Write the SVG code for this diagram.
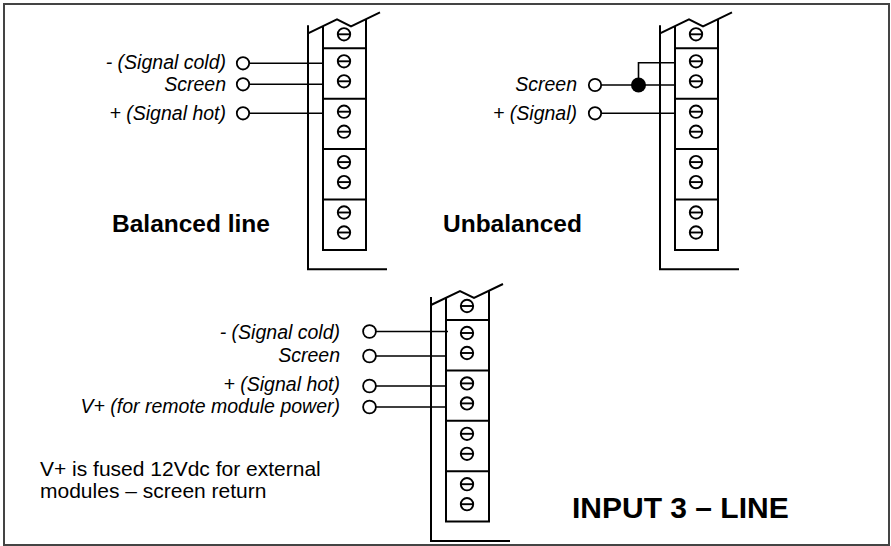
<svg xmlns="http://www.w3.org/2000/svg" width="891" height="546" viewBox="0 0 891 546">
<style>
.ln{fill:none;stroke:#000;stroke-width:2}
.w{fill:none;stroke:#000;stroke-width:1.6}
.term{fill:#fff;stroke:#000;stroke-width:1.8}
.lbl{font-family:"Liberation Sans",Arial,sans-serif;font-style:italic;font-size:19.5px;fill:#000;text-anchor:end}
.note{font-family:"Liberation Sans",Arial,sans-serif;font-size:21px;fill:#000}
.ttl{font-family:"Liberation Sans",Arial,sans-serif;font-weight:bold;font-size:24.5px;fill:#000}
</style>
<defs>
<g id="screw">
<circle cx="0" cy="0" r="6.2" fill="none" stroke="#000" stroke-width="1.9"/>
<line x1="-6.2" y1="0" x2="6.2" y2="0" stroke="#000" stroke-width="1.9"/>
</g>
<g id="block">
<path class="ln" d="M0 -23 V221 H79"/>
<path class="ln" d="M0 -15 L29 -29 L43 -22 L72 -36"/>
<path class="ln" d="M15 -22.2 V201.6 H58 V-29.2"/>
<path class="ln" d="M15 0 H58 M15 50.4 H58 M15 100.8 H58 M15 151.2 H58"/>
<use href="#screw" x="36" y="-14"/>
<use href="#screw" x="36" y="13"/>
<use href="#screw" x="36" y="33"/>
<use href="#screw" x="36" y="63.4"/>
<use href="#screw" x="36" y="83.4"/>
<use href="#screw" x="36" y="113.8"/>
<use href="#screw" x="36" y="133.8"/>
<use href="#screw" x="36" y="164.2"/>
<use href="#screw" x="36" y="184.2"/>
</g>
</defs>
<rect x="0" y="0" width="891" height="546" fill="#fff"/>
<rect x="4" y="4" width="885" height="541" fill="none" stroke="#444" stroke-width="2"/>

<g id="balanced-block">
<use href="#block" transform="translate(308,48.3)"/>
<text class="ttl" x="112" y="232">Balanced line</text>
</g>
<g id="unbalanced-block">
<use href="#block" transform="translate(660,48.3)"/>
<text class="ttl" x="443" y="232">Unbalanced</text>
</g>
<g id="input3-block">
<use href="#block" transform="translate(431,320)"/>
<text class="ttl" x="572" y="518" style="font-size:30px">INPUT 3 – LINE</text>
<text class="note" x="40" y="476">V+ is fused 12Vdc for external</text>
<text class="note" x="40" y="498">modules – screen return</text>
</g>

<g id="balanced-terminals">
<circle class="term" cx="243" cy="63.3" r="6.2"/>
<circle class="term" cx="243" cy="84.3" r="6.2"/>
<circle class="term" cx="243" cy="113.3" r="6.2"/>
<text class="lbl" x="226" y="69">- (Signal cold)</text>
<text class="lbl" x="226" y="90.5">Screen</text>
<text class="lbl" x="226" y="119.5">+ (Signal hot)</text>
</g>
<g id="unbalanced-terminals">
<circle class="term" cx="595" cy="85" r="6.2"/>
<circle class="term" cx="595" cy="113.3" r="6.2"/>
<text class="lbl" x="577" y="91">Screen</text>
<text class="lbl" x="577" y="119.5">+ (Signal)</text>
</g>
<g id="input3-terminals">
<circle class="term" cx="369.5" cy="331.5" r="6.4"/>
<circle class="term" cx="369.5" cy="356" r="6.4"/>
<circle class="term" cx="369.5" cy="386" r="6.4"/>
<circle class="term" cx="369.5" cy="407" r="6.4"/>
<text class="lbl" x="340" y="339">- (Signal cold)</text>
<text class="lbl" x="340" y="362">Screen</text>
<text class="lbl" x="340" y="391">+ (Signal hot)</text>
<text class="lbl" x="340" y="413">V+ (for remote module power)</text>
</g>

<g id="connectors">
<path class="w" d="M249.2 63.3 H322 M249.2 84.3 H322 M249.2 113.3 H322"/>
<path class="w" d="M601.2 85 H675 M601.2 113.3 H675 M638.5 85 V62.7 H675"/>
<circle cx="638.5" cy="85" r="7.5" fill="#000"/>
<path class="w" d="M375.9 331.5 H448 M375.9 356 H446 M375.9 386 H446 M375.9 407 H446"/>
</g>
</svg>
